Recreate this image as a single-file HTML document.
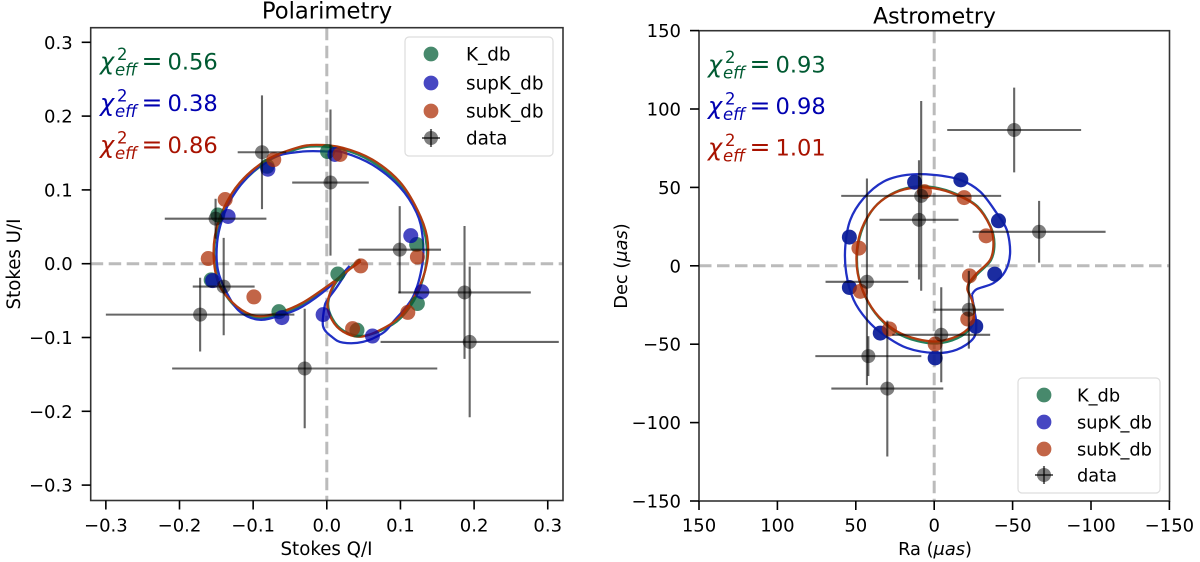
<!DOCTYPE html>
<html lang="en">
<head>
<meta charset="utf-8">
<title>Polarimetry and Astrometry</title>
<style>
html,body{margin:0;padding:0;background:#fff;width:1200px;height:562px;overflow:hidden}
svg{display:block}
text{font-family:"DejaVu Sans","Liberation Sans",sans-serif;fill:#000}
</style>
</head>
<body>
<svg id="fig" width="1200" height="562" viewBox="0 0 1200 562" xmlns="http://www.w3.org/2000/svg">
  <rect width="1200" height="562" fill="#fff"/>
  <g id="left"></g>
  <g id="right"></g>
</svg>
<script>
// ---------- Polarimetry data (Stokes Q/I, U/I) ----------
const polTicks = [-0.3,-0.2,-0.1,0,0.1,0.2,0.3];
const polTickLabels = ['\u22120.3','\u22120.2','\u22120.1','0.0','0.1','0.2','0.3'];
const polDataQ  = [-0.088,0.005,-0.151,-0.140,-0.172,0.099,0.187,0.194,-0.030];
const polDataU  = [0.151,0.110,0.061,-0.031,-0.069,0.019,-0.039,-0.106,-0.142];
const polDataQe = [0.033,0.052,0.069,0.042,0.128,0.056,0.090,0.121,0.180];
const polDataUe = [0.077,0.099,0.027,0.066,0.050,0.059,0.090,0.102,0.081];
const polGreenQ = [-0.157,-0.148,-0.081,-0.065,0.001,0.015,0.041,0.123,0.122];
const polGreenU = [-0.022,0.066,0.132,-0.065,0.152,-0.014,-0.090,-0.054,0.026];
const polBlueQ  = [-0.155,-0.134,-0.080,-0.061,0.011,-0.005,0.062,0.129,0.114];
const polBlueU  = [-0.023,0.064,0.128,-0.073,0.148,-0.069,-0.098,-0.038,0.038];
const polRedQ   = [-0.138,-0.161,-0.099,-0.072,0.018,0.046,0.035,0.110,0.123];
const polRedU   = [0.087,0.007,-0.045,0.141,0.148,-0.003,-0.088,-0.066,0.009];
const polRedCurveQ = [0.046,0.023,0,-0.033,-0.064,-0.095,-0.122,-0.145,-0.153,-0.152,-0.141,-0.118,-0.081,-0.041,-0.014,0.022,0.062,0.099,0.123,0.136,0.136,0.122,0.099,0.072,0.045,0.022,0.007,0.001,0.014,0.046];
const polRedCurveU = [0.005,-0.014,-0.031,-0.053,-0.066,-0.071,-0.058,-0.031,0.001,0.037,0.073,0.110,0.141,0.157,0.161,0.157,0.141,0.111,0.073,0.037,0.001,-0.039,-0.072,-0.090,-0.099,-0.092,-0.076,-0.053,-0.022,0.003];
const polGreenCurveQ = [0.045,0.022,-0.001,-0.033,-0.064,-0.094,-0.121,-0.143,-0.152,-0.151,-0.139,-0.116,-0.080,-0.041,-0.014,0.021,0.060,0.097,0.122,0.134,0.135,0.123,0.100,0.073,0.046,0.023,0.008,0.002,0.015,0.045];
const polGreenCurveU = [0.006,-0.014,-0.033,-0.056,-0.069,-0.073,-0.061,-0.033,0.000,0.036,0.071,0.108,0.139,0.155,0.159,0.155,0.139,0.109,0.072,0.036,0.000,-0.041,-0.074,-0.091,-0.098,-0.091,-0.075,-0.052,-0.022,0.004];
const polBlueCurveQ = [0.031,0.004,-0.033,-0.060,-0.091,-0.118,-0.136,-0.148,-0.149,-0.142,-0.128,-0.104,-0.073,-0.033,0.004,0.022,0.062,0.099,0.122,0.130,0.130,0.117,0.090,0.076,0.049,0.022,0.008,-0.005,-0.003,0.001,0.014,0.031];
const polBlueCurveU = [-0.003,-0.031,-0.058,-0.069,-0.076,-0.065,-0.039,-0.008,0.028,0.060,0.091,0.121,0.144,0.152,0.152,0.151,0.134,0.104,0.069,0.037,0.001,-0.045,-0.079,-0.094,-0.106,-0.107,-0.100,-0.085,-0.058,-0.049,-0.031,-0.005];
const polChi = ['0.56','0.38','0.86'];

// ---------- Astrometry data (Ra, Dec in uas) ----------
const astTicks = [150,100,50,0,-50,-100,-150];
const astXTickLabels = ['150','100','50','0','\u221250','\u2212100','\u2212150'];
const astYTicks = [-150,-100,-50,0,50,100,150];
const astYTickLabels = ['\u2212150','\u2212100','\u221250','0','50','100','150'];
const astDataRa  = [-51.0,-66.9,9.7,8.3,42.9,-22.1,-4.5,42.0,29.9];
const astDataDec = [86.6,21.7,29.3,44.6,-10.2,-28.0,-44.0,-57.6,-78.3];
const astDataRe  = [42.7,42.4,25.2,51.0,26.4,22.3,31.2,33.8,35.7];
const astDataDe  = [27.0,19.7,38.0,60.5,65.9,24.8,30.3,12.7,43.3];
const astBlueRa  = [12.5,-17.0,-41.0,54.1,-38.6,54.1,34.4,-0.6,-26.5];
const astBlueDec = [53.3,54.8,28.7,18.3,-5.3,-13.8,-42.9,-58.8,-38.6];
const astRedRa   = [6.2,-19.1,-33.1,48.0,-22.5,47.1,28.5,-0.6,-21.4];
const astRedDec  = [47.3,43.5,19.1,11.3,-6.4,-16.3,-40.3,-49.9,-34.0];
const astRedCurveRa  = [-21.9,-27.2,-35.7,-37.8,-35.7,-27.2,-14.4,0.4,15.3,28.0,38.6,46.1,49.3,48.8,43.9,35.5,23.8,11.0,-1.7,-14.4,-22.9,-25.5,-24.0,-21.2,-21.9];
const astRedCurveDec = [-11.0,-4.7,3.8,14.4,25.1,37.8,45.2,49.5,49.5,45.2,36.7,24.0,10.2,-4.7,-19.5,-32.3,-41.8,-46.7,-48.2,-45.0,-38.6,-30.1,-21.7,-15.3,-11.0];
const astGreenCurveRa  = [-22.2,-27.8,-36.2,-38.4,-36.0,-27.6,-14.6,0.2,15.0,27.6,38.2,45.4,48.9,48.6,43.8,35.0,23.4,10.8,-1.9,-14.8,-23.4,-25.9,-24.3,-21.5,-22.2];
const astGreenCurveDec = [-11.4,-5.1,3.6,14.2,25.0,37.9,45.6,50.1,50.1,45.6,37.2,24.6,10.6,-4.7,-20.1,-33.4,-43.0,-48.0,-49.5,-46.2,-39.4,-30.4,-21.9,-15.6,-11.4];
const astBlueCurveRa  = [-24.0,-27.2,-37.8,-45.2,-48.4,-46.3,-39.9,-29.3,-16.6,0.4,17.4,32.3,45.0,53.5,56.7,56.1,51.4,42.9,32.3,17.4,-0.6,-14.4,-25.1,-26.8,-25.5,-24.0];
const astBlueCurveDec = [-18.5,-14.9,-11.0,-3.6,8.1,22.9,33.5,47.3,54.8,58.0,58.0,53.7,43.1,29.3,12.3,-4.7,-21.7,-34.4,-43.9,-52.4,-55.6,-53.5,-46.1,-36.5,-28.0,-18.5];
const astChi = ['0.93','0.98','1.01'];
const legendLabels = ['K_db','supK_db','subK_db','data'];

// ---------- Axis functions ----------
const polX = v => 326.8 + 736.5 * v;
const polY = v => 263.7 - 738 * v;
const astX = v => 934.2 - 1.568 * v;
const astY = v => 265.8 - 1.568 * v;

const NS = 'http://www.w3.org/2000/svg';
const C = {
  green:{fill:'#005c33',line:'#23805c',text:'#005a32'},
  blue:{fill:'#0000aa',line:'#2030c4',text:'#0000b0'},
  red:{fill:'#aa2a00',line:'#b23c10',text:'#a81200'}
};
function mk(parent, tag, geo){
  const el = document.createElementNS(NS, tag);
  for(const k in geo) el.setAttribute(k, geo[k]);
  parent.appendChild(el);
  return el;
}
function smooth(px, py){
  let d = 'M' + px[0].toFixed(2) + ' ' + py[0].toFixed(2);
  for(let i = 0; i < px.length - 1; i++){
    const a = Math.max(i - 1, 0), b = i, c = i + 1, e = Math.min(i + 2, px.length - 1);
    const c1x = px[b] + (px[c] - px[a]) / 6, c1y = py[b] + (py[c] - py[a]) / 6;
    const c2x = px[c] - (px[e] - px[b]) / 6, c2y = py[c] - (py[e] - py[b]) / 6;
    d += 'C' + [c1x,c1y,c2x,c2y,px[c],py[c]].map(n => n.toFixed(2)).join(' ');
  }
  return d;
}
function drawCurve(g, xs, ys, fx, fy, color, name){
  const el = mk(g, 'path', {d:smooth(xs.map(fx), ys.map(fy)), fill:'none', stroke:color, 'stroke-width':2.3, 'stroke-linejoin':'round'});
  
  
}
function drawMarkers(g, xs, ys, fx, fy, color, name, alpha){
  xs.forEach((v, i) => {
    const el = mk(g, 'circle', {cx:fx(v), cy:fy(ys[i]), r:7.5, fill:color, 'fill-opacity':alpha});
    
    
  });
}
function drawData(g, xs, ys, xe, ye, fx, fy){
  xs.forEach((v, i) => {
    const h = mk(g, 'line', {x1:fx(v - xe[i]), x2:fx(v + xe[i]), y1:fy(ys[i]), y2:fy(ys[i]), stroke:'#000', 'stroke-opacity':0.6, 'stroke-width':2.1});
    
    
    const w = mk(g, 'line', {x1:fx(v), x2:fx(v), y1:fy(ys[i] - ye[i]), y2:fy(ys[i] + ye[i]), stroke:'#000', 'stroke-opacity':0.6, 'stroke-width':2.1});
    
    
    const c = mk(g, 'circle', {cx:fx(v), cy:fy(ys[i]), r:7, fill:'#000', 'fill-opacity':0.5});
    
    
  });
}
function label(g, x, y, str, size, anchor, color, italic){
  const t = mk(g, 'text', {x:x, y:y, 'font-size':size, 'text-anchor':anchor || 'start'});
  if(color) t.setAttribute('style', 'fill:' + color + (italic ? ';font-style:italic' : ''));
  else if(italic) t.setAttribute('style', 'font-style:italic');
  t.textContent = str;
  return t;
}
function zeroLines(g, x0, x1, y0, y1, zeroX, zeroY){
  const dh = mk(g, 'line', {x1:x0, x2:x1, y1:zeroY, y2:zeroY, stroke:'#bbb', 'stroke-width':3, 'stroke-dasharray':'12.5 5.5'});
  
  
  const dv = mk(g, 'line', {x1:zeroX, x2:zeroX, y1:y0, y2:y1, stroke:'#bbb', 'stroke-width':3, 'stroke-dasharray':'12.5 5.5'});
  
  
}
function axes(g, x0, x1, y0, y1, fx, fy, xt, xl, yt, yl){
  const box = mk(g, 'rect', {x:x0, y:y0, width:x1 - x0, height:y1 - y0, fill:'none', stroke:'#333', 'stroke-width':1.6});
  
  
  xt.forEach((v, i) => {
    const tk = mk(g, 'line', {x1:fx(v), x2:fx(v), y1:y1, y2:y1 + 9, stroke:'#000', 'stroke-width':1.6});
    
    
    const lb = label(g, fx(v), 531.5, xl[i], 18, 'middle');
    
    
  });
  yt.forEach((v, i) => {
    const tk = mk(g, 'line', {x1:x0 - 9, x2:x0, y1:fy(v), y2:fy(v), stroke:'#000', 'stroke-width':1.6});
    
    
    const lb = label(g, x0 - 18, fy(v) + 6.5, yl[i], 18, 'end');
    
    
  });
}
function chi(g, x, y, value, color, name){
  const grp = mk(g, 'g', {});
  
  
  label(grp, x - 0.5, y, '\u03C7', 24, 'start', color, true);
  label(grp, x + 16.5, y - 9.5, '2', 16.5, 'start', color);
  label(grp, x + 14.5, y + 6, 'eff', 16.5, 'start', color, true);
  label(grp, x + 41, y, '=', 25, 'start', color);
  label(grp, x + 67, y, value, 22.6, 'start', color);
}
function legend(g, x, y, w, h, mx, ys, tx, fs){
  const box = mk(g, 'rect', {x:x, y:y, width:w, height:h, rx:4, fill:'#fff', 'fill-opacity':0.8, stroke:'#ddd', 'stroke-width':1.2});
  
  
  const cols = [C.green.fill, C.blue.fill, C.red.fill];
  cols.forEach((col, i) => {
    const m = mk(g, 'circle', {cx:mx, cy:ys[i], r:7.4, fill:col, 'fill-opacity':0.72});
    
    
  });
  const a = mk(g, 'line', {x1:mx - 9, x2:mx + 9, y1:ys[3], y2:ys[3], stroke:'#000', 'stroke-opacity':0.6, 'stroke-width':2.1});
  
  
  const b = mk(g, 'line', {x1:mx, x2:mx, y1:ys[3] - 9, y2:ys[3] + 9, stroke:'#000', 'stroke-opacity':0.6, 'stroke-width':2.1});
  
  
  const c = mk(g, 'circle', {cx:mx, cy:ys[3], r:7, fill:'#000', 'fill-opacity':0.5});
  
  
  legendLabels.forEach((s, i) => {
    const t = label(g, tx, ys[i] + 6.3, s, fs, 'start');
    
    
  });
}

// ---------- Left panel ----------
const L = document.getElementById('left');
zeroLines(L, 90.7, 563, 27.7, 500.5, polX(0), polY(0));
drawCurve(L, polGreenCurveQ, polGreenCurveU, polX, polY, C.green.line, 'k-db-curve');
drawCurve(L, polBlueCurveQ, polBlueCurveU, polX, polY, C.blue.line, 'supk-db-curve');
drawCurve(L, polRedCurveQ, polRedCurveU, polX, polY, C.red.line, 'subk-db-curve');
drawMarkers(L, polGreenQ, polGreenU, polX, polY, C.green.fill, 'k-db-marker', 0.72);
drawMarkers(L, polBlueQ, polBlueU, polX, polY, C.blue.fill, 'supk-db-marker', 0.72);
drawMarkers(L, polRedQ, polRedU, polX, polY, C.red.fill, 'subk-db-marker', 0.72);
drawData(L, polDataQ, polDataU, polDataQe, polDataUe, polX, polY);
axes(L, 90.7, 563, 27.7, 500.5, polX, polY, polTicks, polTickLabels, polTicks, polTickLabels);
const lt = label(L, 327, 18.5, 'Polarimetry', 22.7, 'middle');


const lx = label(L, 326.5, 555, 'Stokes Q/I', 18.2, 'middle');


const ly = label(L, 0, 0, 'Stokes U/I', 18.2, 'middle');
ly.setAttribute('transform', 'translate(20 264) rotate(-90)');


chi(L, 100.5, 69.5, polChi[0], C.green.text, 'chi-square-k-db');
chi(L, 100.5, 111, polChi[1], C.blue.text, 'chi-square-supk-db');
chi(L, 100.5, 153, polChi[2], C.red.text, 'chi-square-subk-db');
legend(L, 405, 37, 148, 119, 431, [54,83,111,138], 466, 18.4);

// ---------- Right panel ----------
const R = document.getElementById('right');
zeroLines(R, 699, 1169.5, 30.7, 501, astX(0), astY(0));
drawCurve(R, astGreenCurveRa, astGreenCurveDec, astX, astY, C.green.line, 'k-db-curve');
drawCurve(R, astBlueCurveRa, astBlueCurveDec, astX, astY, C.blue.line, 'supk-db-curve');
drawCurve(R, astRedCurveRa, astRedCurveDec, astX, astY, C.red.line, 'subk-db-curve');
drawMarkers(R, astBlueRa, astBlueDec, astX, astY, '#0a1c99', 'supk-db-marker', 0.93);
drawMarkers(R, astRedRa, astRedDec, astX, astY, C.red.fill, 'subk-db-marker', 0.72);
drawData(R, astDataRa, astDataDec, astDataRe, astDataDe, astX, astY);
axes(R, 699, 1169.5, 30.7, 501, astX, astY, astTicks, astXTickLabels, astYTicks, astYTickLabels);
const rt = label(R, 934.5, 23.5, 'Astrometry', 22, 'middle');


const rx = mk(R, 'text', {x:935, y:555, 'font-size':17.8, 'text-anchor':'middle'});


rx.innerHTML = 'Ra (<tspan font-style="italic">\u03BCas</tspan>)';
const ry = mk(R, 'text', {'font-size':17.8, 'text-anchor':'middle', transform:'translate(627 266) rotate(-90)'});


ry.innerHTML = 'Dec (<tspan font-style="italic">\u03BCas</tspan>)';
chi(R, 708.5, 72.7, astChi[0], C.green.text, 'chi-square-k-db');
chi(R, 708.5, 114, astChi[1], C.blue.text, 'chi-square-supk-db');
chi(R, 708.5, 155.7, astChi[2], C.red.text, 'chi-square-subk-db');
legend(R, 1018, 378, 142, 115, 1044, [395,422,449,475], 1077, 17.8);
</script>
</body>
</html>
